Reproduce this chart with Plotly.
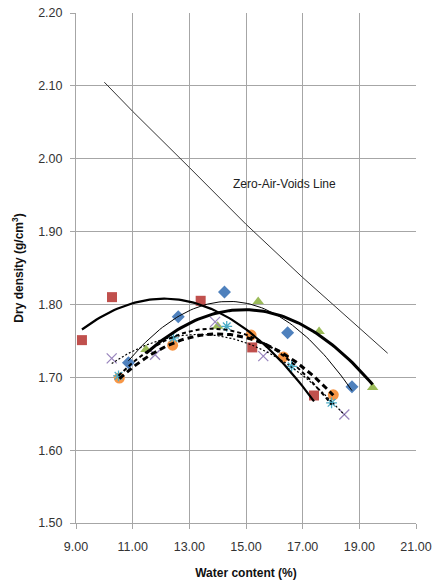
import numpy as np
import plotly.graph_objects as go

# Data
sq_x = [9.21, 10.27, 13.40, 15.22, 17.40]
sq_y = [1.751, 1.810, 1.805, 1.741, 1.675]

dm_x = [10.85, 12.61, 14.24, 16.47, 18.74]
dm_y = [1.720, 1.783, 1.817, 1.761, 1.687]

tr_x = [11.47, 14.00, 15.43, 17.58, 19.47]
tr_y = [1.738, 1.770, 1.804, 1.763, 1.686]

ci_x = [10.53, 12.41, 15.18, 16.32, 18.08]
ci_y = [1.699, 1.744, 1.758, 1.728, 1.676]

xm_x = [10.26, 11.79, 13.91, 15.61, 18.47]
xm_y = [1.726, 1.731, 1.776, 1.729, 1.649]

as_x = [10.50, 12.44, 14.32, 16.61, 18.02]
as_y = [1.702, 1.754, 1.770, 1.715, 1.665]

zav_x = [10.0, 11.0, 13.0, 15.0, 17.0, 20.0]
zav_y = [2.105, 2.065, 1.988, 1.910, 1.837, 1.733]

x_ticks = [9, 11, 13, 15, 17, 19, 21]
y_ticks = [1.5, 1.6, 1.7, 1.8, 1.9, 2.0, 2.1, 2.2]

series = [
    (sq_x, sq_y, "square", "#C0504D", 10, dict(color="black", width=2.2, dash="solid")),
    (dm_x, dm_y, "diamond", "#4F81BD", 10, dict(color="black", width=1, dash="solid")),
    (tr_x, tr_y, "triangle-up", "#9BBB59", 10, dict(color="black", width=3, dash="solid")),
    (ci_x, ci_y, "circle", "#F79646", 11, dict(color="black", width=3, dash="6px,4px")),
    (xm_x, xm_y, "x-thin-open", "#9A86BE", 10, dict(color="black", width=1.2, dash="2px,2px")),
    (as_x, as_y, "asterisk-open", "#4BACC6", 9, dict(color="black", width=2, dash="4px,3px")),
]

fig = go.Figure()

for xs, ys, sym, col, sz, _ in series:
    if sym.endswith("-open"):
        mk = dict(symbol=sym, size=sz, color=col, line=dict(color=col, width=1.3))
    else:
        mk = dict(symbol=sym, size=sz, color=col, line=dict(width=0))
    fig.add_trace(go.Scatter(x=xs, y=ys, mode="markers", marker=mk, showlegend=False))

for xs, ys, sym, col, sz, ln in series:
    c = np.polyfit(xs, ys, 2)
    fx = np.linspace(min(xs), max(xs), 80)
    fy = np.polyval(c, fx)
    fig.add_trace(go.Scatter(x=fx, y=fy, mode="lines", line=ln, showlegend=False))

fig.add_trace(go.Scatter(x=zav_x, y=zav_y, mode="lines", line=dict(color="#333333", width=1), showlegend=False))

fig.add_annotation(x=16.35, y=1.965, text="Zero-Air-Voids Line", showarrow=False,
                   font=dict(size=12, color="#222222", family="Liberation Sans, Arial"))

axis_font = dict(size=12.5, color="#333333", family="Liberation Sans, Arial")
title_font = dict(size=12, color="#111111", family="Liberation Sans, Arial")
fig.update_layout(
    width=433, height=586,
    margin=dict(l=76, r=17, t=13, b=63, autoexpand=False),
    paper_bgcolor="white", plot_bgcolor="white",
    xaxis=dict(range=[9, 21], tickvals=x_ticks, tickformat=".2f", automargin=False,
               showgrid=True, gridcolor="#A6A6A6", gridwidth=1,
               showline=True, linecolor="#A6A6A6", linewidth=1,
               ticks="outside", ticklen=5, tickcolor="#A6A6A6",
               ticklabelstandoff=7,
               zeroline=False, tickfont=axis_font,
               title=dict(text="<b>Water content (%)</b>", font=title_font, standoff=15)),
    yaxis=dict(range=[1.5, 2.2], tickvals=y_ticks, tickformat=".2f", automargin=False,
               showgrid=True, gridcolor="#A6A6A6", gridwidth=1,
               showline=True, linecolor="#A6A6A6", linewidth=1,
               ticks="outside", ticklen=5, tickcolor="#A6A6A6",
               ticklabelstandoff=5,
               zeroline=False, tickfont=axis_font,
               title=dict(text="<b>Dry density (g/cm<sup>3</sup>)</b>", font=title_font, standoff=11)),
)

fig.write_html("out.html", config={"displayModeBar": False},
               post_script="document.body.style.margin='0';")
